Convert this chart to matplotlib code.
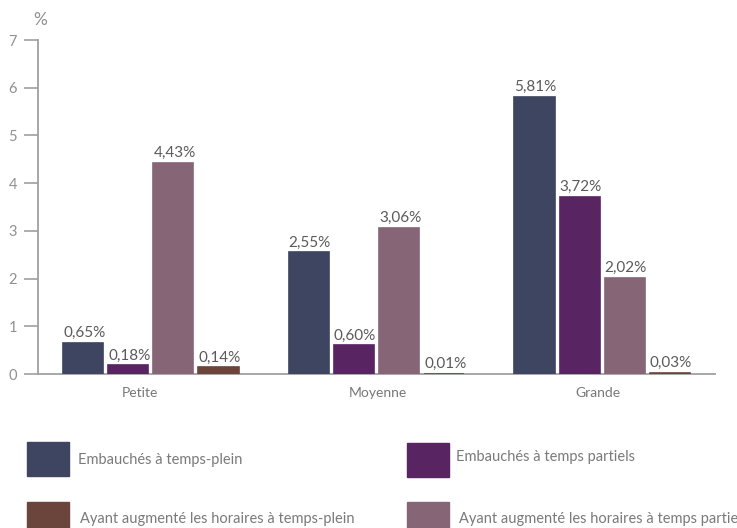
import matplotlib
matplotlib.use("Agg")
import matplotlib.pyplot as plt
from matplotlib.patches import Rectangle
import numpy as np

categories = ["Petite", "Moyenne", "Grande"]
series_names = [
    "Embauchés à temps-plein",
    "Embauchés à temps partiels",
    "Ayant augmenté les horaires à temps partiels",
    "Ayant augmenté les horaires à temps-plein",
]
values = [
    [0.65, 2.55, 5.81],
    [0.18, 0.60, 3.72],
    [4.43, 3.06, 2.02],
    [0.14, 0.01, 0.03],
]
labels = [
    ["0,65%", "2,55%", "5,81%"],
    ["0,18%", "0,60%", "3,72%"],
    ["4,43%", "3,06%", "2,02%"],
    ["0,14%", "0,01%", "0,03%"],
]
colors = ["#3d4560", "#582462", "#866577", "#6b453c"]
yticks = [0, 1, 2, 3, 4, 5, 6, 7]

plt.rcParams['font.family'] = ['Lato', 'DejaVu Sans']

W, H = 737, 528
fig = plt.figure(figsize=(W / 100, H / 100), dpi=100)
ax = fig.add_axes([38 / W, 1 - 374 / H, (715 - 38) / W, (374 - 40) / H])

x = np.arange(len(categories))
bw = 0.178
step = 0.2
for i, (vals, col) in enumerate(zip(values, colors)):
    pos = x + (i - 1.5) * step
    ax.bar(pos, vals, width=bw, color=col, edgecolor=col, linewidth=1.2, zorder=3)
    for p, v, lab in zip(pos, vals, labels[i]):
        ax.text(p - bw / 2, v + 0.06, lab, ha="left", va="bottom",
                fontsize=11, color="#5a5a5a")

ax.set_xlim(-0.5, 2.5)
ax.set_ylim(0, 7)
ax.set_yticks(yticks)
ax.set_yticklabels([str(t) for t in yticks])
ax.set_xticks([])
label_shift = [-11, 1, -4]  # pixel offsets of category labels
for xi, cat, sh in zip(x, categories, label_shift):
    ax.text(xi + sh / 225.5, -0.39, cat, ha="center", va="center",
            fontsize=10, color="#777777", clip_on=False)
for s in ["top", "right"]:
    ax.spines[s].set_visible(False)
for s in ["left", "bottom"]:
    ax.spines[s].set_color("#a0a0a0")
    ax.spines[s].set_linewidth(1.3)
ax.tick_params(axis="y", length=10, width=1.2, color="#a0a0a0",
               labelcolor="#909090", labelsize=10.5, pad=5)

fig.text(33 / W, 1 - 20 / H, "%", fontsize=12.5, color="#909090", ha="left", va="center")

# legend
leg = [
    (0, 27, 442, 476, 78, 460),
    (1, 407, 443, 477, 456, 457),
    (3, 27, 502, 536, 80, 519),
    (2, 407, 502, 536, 459, 519),
]
for idx, x0, y0, y1, tx, ty in leg:
    fig.patches.append(Rectangle((x0 / W, 1 - y1 / H), 42 / W, (y1 - y0) / H,
                                 transform=fig.transFigure, color=colors[idx]))
    fig.text(tx / W, 1 - ty / H, series_names[idx], fontsize=10.5,
             color="#7a7a7a", ha="left", va="center")

fig.savefig("out.png", dpi=100)
